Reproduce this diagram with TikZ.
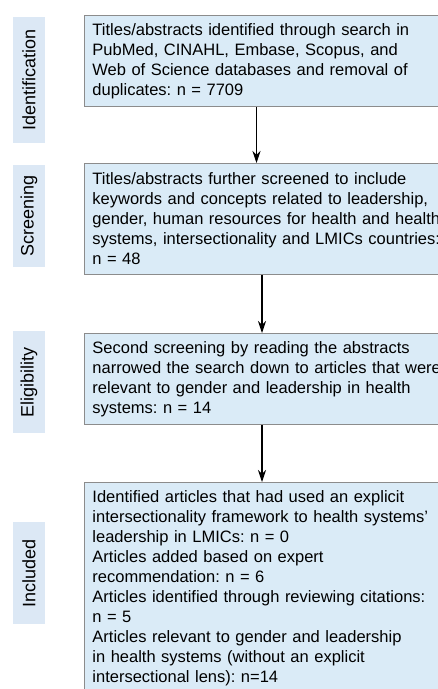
\documentclass[tikz,border=0pt]{standalone}
\usepackage{fontspec}
\setmainfont{Liberation Sans}
\usetikzlibrary{arrows.meta,positioning}
\definecolor{boxblue}{HTML}{DAEBF7}
\definecolor{tagblue}{HTML}{DCE8F5}
\frenchspacing
\tikzset{
	stagebox/.style={draw=black!45, line width=0.9pt, fill=boxblue, align=left, anchor=north west, inner sep=8pt, text width=420pt, font=\fontsize{16.5}{20}\selectfont},
	stagetag/.style={fill=tagblue, rotate=90, minimum height=32pt, inner sep=0pt, font=\fontsize{18}{20}\selectfont},
	flow/.style={-{Stealth[length=12pt,width=8pt]}, line width=1.1pt}
}

\begin{document}
\begin{tikzpicture}[x=1pt, y=-1pt]
			%%%%% START %%%%%
			\useasboundingbox (0, 0) rectangle (438, 689);
			
			\node[stagetag, minimum width=126pt] (tagid) at (29, 80) {Identification};
			\node[stagetag, minimum width=102pt] (tagscr) at (29, 216) {Screening};
			\node[stagetag, minimum width=102pt] (tagelig) at (29, 382) {Eligibility};
			\node[stagetag, minimum width=102pt] (taginc) at (29, 573) {Included};
			
			\node[stagebox, minimum height=90pt] (ident) at (84, 15) {Titles/abstracts identified through search in\\PubMed, CINAHL, Embase, Scopus, and\\Web of Science databases and removal of\\duplicates: n = 7709};
			\node[stagebox, minimum height=111pt] (screen) at (84, 163) {Titles/abstracts further screened to include\\keywords and concepts related to leadership,\\gender, human resources for health and health\\systems, intersectionality and LMICs countries:\\n = 48};
			\node[stagebox, minimum height=90pt] (elig) at (84, 333) {Second screening by reading the abstracts\\narrowed the search down to articles that were\\relevant to gender and leadership in health\\systems: n = 14};
			\node[stagebox, minimum height=212pt] (incl) at (84, 482) {Identified articles that had used an explicit\\intersectionality framework to health systems’\\leadership in LMICs: n = 0\\Articles added based on expert\\recommendation: n = 6\\Articles identified through reviewing citations:\\n = 5\\Articles relevant to gender and leadership\\in health systems (without an explicit\\intersectional lens): n=14};
			
			\draw[flow] ([xshift=172.5pt]ident.south west) -- ([xshift=172.5pt]screen.north west);
			\draw[flow] ([xshift=178pt]screen.south west) -- ([xshift=178pt]elig.north west);
			\draw[flow] ([xshift=178pt]elig.south west) -- ([xshift=178pt]incl.north west);
			
			%%%%% END %%%%%
\end{tikzpicture}
\end{document}
